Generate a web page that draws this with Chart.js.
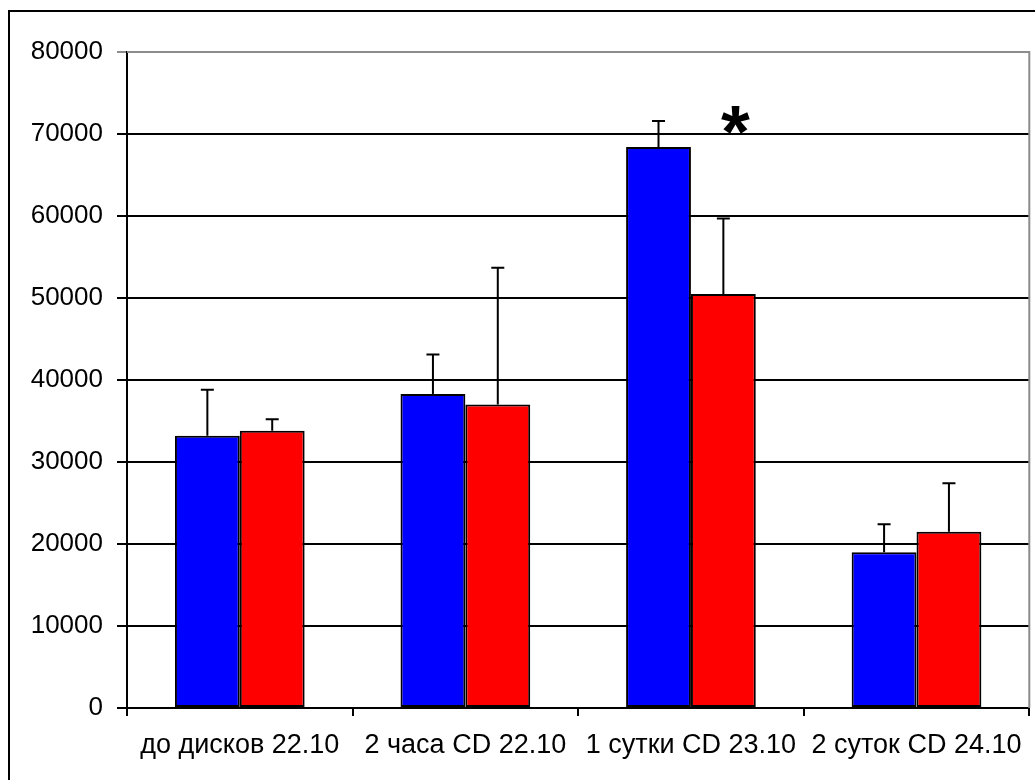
<!DOCTYPE html>
<html>
<head>
<meta charset="utf-8">
<script src="https://cdn.jsdelivr.net/npm/chart.js@4/dist/chart.umd.min.js"></script>
<style>
  html, body { margin: 0; padding: 0; background: #fff; }
  #wrap { width: 1035px; height: 780px; position: relative; }
</style>
</head>
<body>
<div id="wrap"><canvas id="cdChart" width="1035" height="780"></canvas></div>
<script>
// категории и значения (среднее + ошибка вверх)
const categories = ['до дисков 22.10', '2 часа CD 22.10', '1 сутки CD 23.10', '2 суток CD 24.10'];
const blueValues = [33200, 38300, 68400, 19000];
const blueErrors = [5600, 4800, 3200, 3400];
const redValues = [33800, 37000, 50500, 21500];
const redErrors = [1400, 16700, 9200, 5900];
const yTicks = [0, 10000, 20000, 30000, 40000, 50000, 60000, 70000, 80000];
const starCategory = 2; // звёздочка над красным столбцом "1 сутки"
const starValue = 71500;

const FONT = '"Liberation Sans", Arial, sans-serif';

// рамка вокруг всей картинки и серые края области построения
const framePlugin = {
    id: 'frame',
    beforeDraw(chart) {
        const c = chart.ctx;
        c.save();
        c.fillStyle = '#fff';
        c.fillRect(0, 0, chart.width, chart.height);
        c.strokeStyle = '#000';
        c.lineWidth = 2;
        c.strokeRect(9, 11, chart.width + 20, chart.height + 20);
        c.restore();
    },
    afterDraw(chart) {
        const a = chart.chartArea;
        const c = chart.ctx;
        c.save();
        c.strokeStyle = '#8c8c8c';
        c.lineWidth = 2;
        c.beginPath();
        c.moveTo(a.left, a.top);
        c.lineTo(a.right, a.top);
        c.lineTo(a.right, a.bottom);
        c.stroke();
        c.restore();
    }
};

// планки погрешностей (только вверх) и звёздочка
const errorBarPlugin = {
    id: 'errorBars',
    afterDatasetsDraw(chart) {
        const c = chart.ctx;
        const y = chart.scales.y;
        const errs = [blueErrors, redErrors];
        c.save();
        c.strokeStyle = '#000';
        c.lineWidth = 2;
        chart.data.datasets.forEach((ds, di) => {
            chart.getDatasetMeta(di).data.forEach((bar, i) => {
                const top = y.getPixelForValue(ds.data[i] + errs[di][i]);
                c.beginPath();
                c.moveTo(bar.x, bar.y);
                c.lineTo(bar.x, top);
                c.moveTo(bar.x - 6.5, top);
                c.lineTo(bar.x + 6.5, top);
                c.stroke();
            });
        });
        const redBar = chart.getDatasetMeta(1).data[starCategory];
        c.fillStyle = '#000';
        c.font = 'bold 74px ' + FONT;
        c.textAlign = 'center';
        c.textBaseline = 'middle';
        c.fillText('*', redBar.x + 12, y.getPixelForValue(starValue) + 15);
        c.restore();
    }
};

new Chart(document.getElementById('cdChart').getContext('2d'), {
    type: 'bar',
    data: {
        labels: categories,
        datasets: [{
            data: blueValues,
            backgroundColor: '#0000ff',
            borderColor: '#000',
            borderWidth: 2,
            borderSkipped: false
        }, {
            data: redValues,
            backgroundColor: '#ff0000',
            borderColor: '#000',
            borderWidth: 2,
            borderSkipped: false
        }]
    },
    options: {
        responsive: false,
        animation: false,
        devicePixelRatio: 1,
        layout: { padding: { top: 52, right: 4, left: 0, bottom: 0 } },
        plugins: { legend: { display: false }, tooltip: { enabled: false } },
        datasets: { bar: { categoryPercentage: 0.575, barPercentage: 1 } },
        scales: {
            x: {
                afterFit(scale) { scale.height = 72; },
                grid: { drawOnChartArea: false, drawTicks: true, tickLength: 8, color: '#000', lineWidth: 2, offset: true },
                border: { color: '#000', width: 2 },
                ticks: { color: '#000', font: { family: FONT, size: 27 }, padding: 13, maxRotation: 0, autoSkip: false }
            },
            y: {
                min: 0,
                max: 80000,
                afterFit(scale) { scale.width = 127; },
                afterBuildTicks(scale) { scale.ticks = yTicks.map(v => ({ value: v })); },
                grid: {
                    color: ctx => ctx.tick && ctx.tick.value === 80000 ? '#8c8c8c' : '#000',
                    lineWidth: 2,
                    tickLength: 10
                },
                border: { color: '#000', width: 2 },
                ticks: { color: '#000', font: { family: FONT, size: 26 }, padding: 14, callback: v => String(v) }
            }
        }
    },
    plugins: [framePlugin, errorBarPlugin]
});
</script>
</body>
</html>
